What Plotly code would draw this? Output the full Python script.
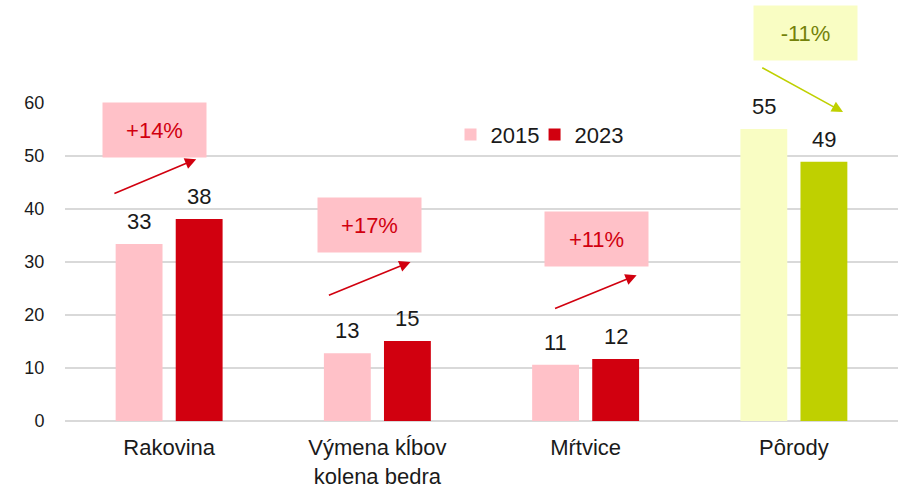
import plotly.graph_objects as go

categories = ["Rakovina", "Výmena kĺbov<br>kolena bedra", "Mŕtvice", "Pôrody"]
values_2015 = [33.4, 12.8, 10.6, 55.1]
values_2023 = [38.1, 15.1, 11.7, 48.9]
series_names = ["2015", "2023"]
change_labels = ["+14%", "+17%", "+11%", "-11%"]

PINK = "#FFC1C8"
RED = "#D1000F"
LYELLOW = "#F9FDC3"
GREEN = "#BFD000"
OLIVE = "#74820A"
FONT = "Liberation Sans, Arial, sans-serif"
TXT = "#1A1A1A"
YMAX = 60

colors_2015 = [PINK, PINK, PINK, LYELLOW]
colors_2023 = [RED, RED, RED, GREEN]

fig = go.Figure()
fig.add_trace(go.Bar(x=categories, y=values_2015, name=series_names[0], legend="legend",
                     marker=dict(color=colors_2015, line=dict(width=0))))
fig.add_trace(go.Bar(x=categories, y=values_2023, name=series_names[1], legend="legend2",
                     marker=dict(color=colors_2023, line=dict(width=0))))

annotations = []
# value labels above bars
for i, cat in enumerate(categories):
    for vals, shift in ((values_2015, -30), (values_2023, 30)):
        annotations.append(dict(x=cat, y=vals[i], xref="x", yref="y",
                                text=f"{vals[i]:.0f}", showarrow=False,
                                xshift=shift, yanchor="bottom", yshift=8,
                                font=dict(family=FONT, size=22, color=TXT)))

# change boxes and arrows (positions relative to category index / value scale)
box_pos = [(-0.07, 54.9), (0.964, 37.0), (2.05, 34.3), (3.055, 73.2)]
arrow_tips = [(0.13, 49.4), (1.159, 30.0), (2.245, 27.5), (3.236, 58.3)]
arrow_tails = [(-0.27, 42.8), (0.76, 23.6), (1.846, 21.1), (2.841, 66.8)]
box_fill = [PINK, PINK, PINK, LYELLOW]
box_text = [RED, RED, RED, OLIVE]
arrow_col = [RED, RED, RED, GREEN]

for i in range(4):
    annotations.append(dict(x=box_pos[i][0], y=box_pos[i][1] / YMAX, xref="x", yref="paper",
                            xanchor="center", yanchor="middle",
                            text=change_labels[i], showarrow=False,
                            bgcolor=box_fill[i], width=103, height=54, borderpad=0,
                            font=dict(family=FONT, size=22, color=box_text[i])))
    annotations.append(dict(x=arrow_tips[i][0], y=arrow_tips[i][1], xref="x", yref="y",
                            ax=arrow_tails[i][0], ay=arrow_tails[i][1],
                            axref="x", ayref="y", text="", showarrow=True,
                            arrowhead=2, arrowsize=1.4, arrowwidth=1.6,
                            arrowcolor=arrow_col[i]))

legend_style = dict(orientation="h", y=0.90, xanchor="left", yanchor="middle",
                    font=dict(family=FONT, size=22, color=TXT),
                    bgcolor="rgba(0,0,0,0)", itemwidth=30)

fig.update_layout(
    width=907, height=488,
    margin=dict(l=65, r=9, t=103, b=67),
    plot_bgcolor="white", paper_bgcolor="white",
    barmode="group", bargap=0.423, bargroupgap=0.22,
    font=dict(family=FONT, color=TXT),
    showlegend=True,
    legend=dict(x=0.4628, **legend_style),
    legend2=dict(x=0.5637, **legend_style),
    annotations=annotations,
)
fig.update_xaxes(showgrid=False, showline=False, ticks="outside", ticklen=7,
                 tickcolor="rgba(0,0,0,0)", automargin=False,
                 tickfont=dict(family=FONT, size=22, color=TXT))
fig.update_yaxes(range=[0, YMAX], dtick=10, showgrid=True, gridcolor="#D9D9D9", gridwidth=2,
                 zeroline=True, zerolinecolor="#D9D9D9", zerolinewidth=2, automargin=False,
                 showline=False, ticks="outside", ticklen=16, tickcolor="rgba(0,0,0,0)",
                 tickfont=dict(family=FONT, size=18, color=TXT))

fig.write_html("out.html", config={"displayModeBar": False},
               post_script="document.body.style.margin='0';")
